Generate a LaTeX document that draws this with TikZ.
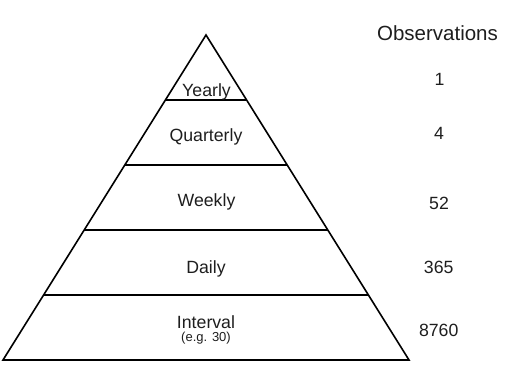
\documentclass[tikz,border=0pt]{standalone}
\usepackage{fontspec}
\setmainfont{Liberation Sans}
\usetikzlibrary{calc}
\definecolor{txt}{HTML}{1E1E1E}
\tikzset{
  edge/.style={draw=black, line width=1.6pt, line join=miter},
  lbl/.style={inner sep=0pt, anchor=base, text=txt, font=\fontsize{17.7}{20}\selectfont},
  small/.style={inner sep=0pt, anchor=base, text=txt, font=\fontsize{13}{15}\selectfont},
  head/.style={inner sep=0pt, anchor=base, text=txt, font=\fontsize{20.5}{23}\selectfont}
}
\begin{document}
\begin{tikzpicture}[x=1pt, y=-1pt]
\useasboundingbox (0,0) rectangle (510,372);
\coordinate (apex) at (206,35);
\coordinate (bl) at (3,360);
\coordinate (br) at (409,360);
\draw[edge] (apex) -- (bl) -- (br) -- cycle;
\foreach \t/\n in {0.2/a,0.4/b,0.6/c,0.8/d}{
  \coordinate (L\n) at ($(apex)!\t!(bl)$);
  \coordinate (R\n) at ($(apex)!\t!(br)$);
  \draw[edge] (L\n) -- (R\n);
}
\node[lbl] (yearly) at (206.5,96) {Yearly};
\node[lbl] (quarterly) at (206,141) {Quarterly};
\node[lbl] (weekly) at (206.5,206.5) {Weekly};
\node[lbl] (daily) at (206,273) {Daily};
\node[lbl] (interval) at (206,328) {Interval};
\node[small] (eg) at (206,341.5) {(e.g. 30)};
\node[head] (obs) at (437.5,40.5) {Observations};
\node[lbl] (n1) at (439.5,85) {1};
\node[lbl] (n4) at (439,139) {4};
\node[lbl] (n52) at (439,209) {52};
\node[lbl] (n365) at (438.7,273) {365};
\node[lbl] (n8760) at (438.7,336) {8760};
\end{tikzpicture}
\end{document}
